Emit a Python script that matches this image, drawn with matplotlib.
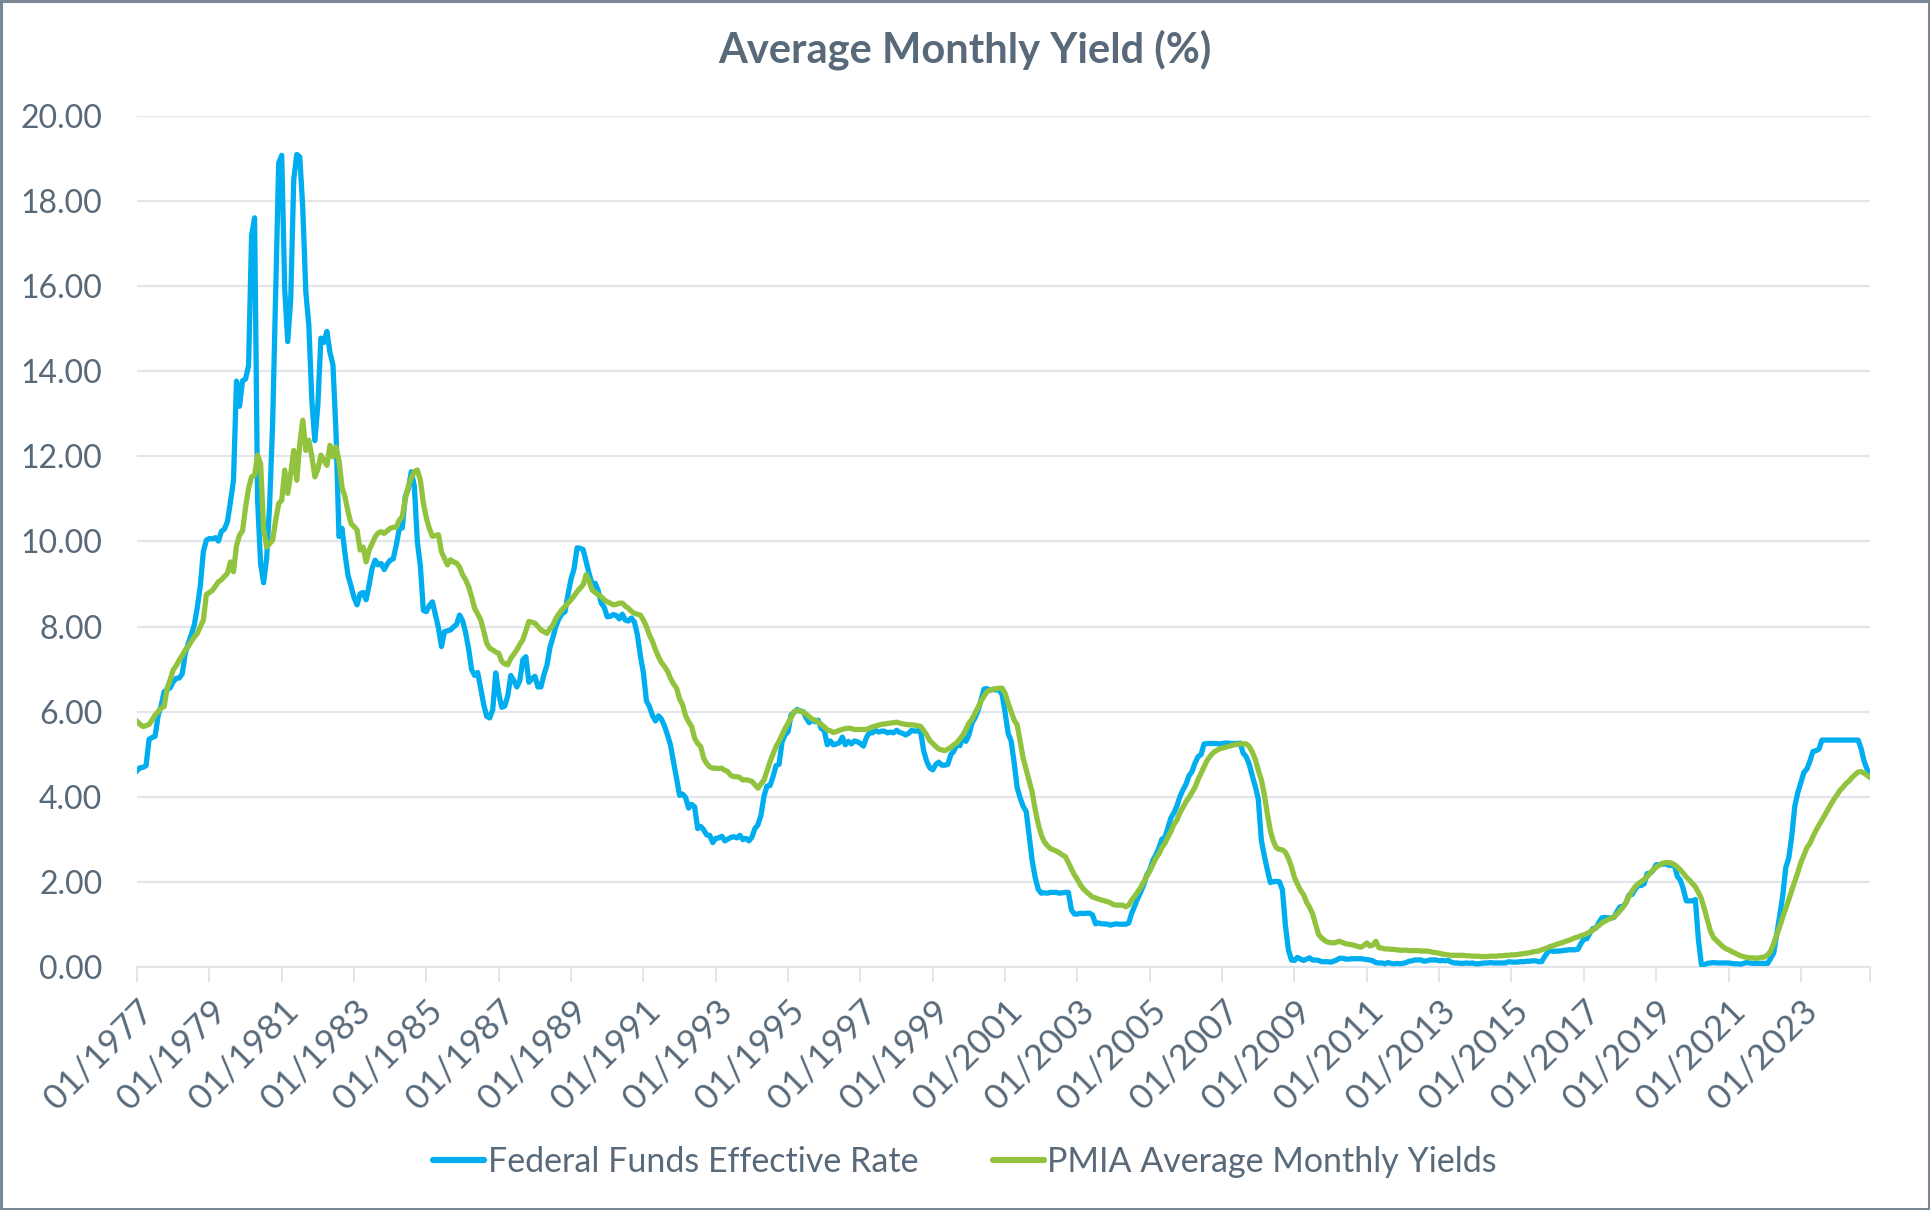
"""Average monthly yield: Fed Funds effective rate vs PMIA average monthly yields, 1977-2024."""

import numpy as np
import pandas as pd
import matplotlib
matplotlib.use("Agg")
import matplotlib.pyplot as plt
from matplotlib.patches import Rectangle

plt.rcParams["font.family"] = ["Lato", "DejaVu Sans"]

TEXT = "#586979"
GRID = "#E2E5E9"
BLUE = "#00AEEF"
GREEN = "#92C33E"

months = pd.date_range("1977-01-01", "2024-12-01", freq="MS")

# Federal Funds effective rate, monthly, one row per year
fed_funds = [
    4.61, 4.68, 4.69, 4.73, 5.35, 5.39, 5.42, 5.90, 6.14, 6.47, 6.51, 6.56,
    6.70, 6.78, 6.79, 6.89, 7.36, 7.60, 7.81, 8.04, 8.45, 8.96, 9.76, 10.03,
    10.07, 10.06, 10.09, 10.01, 10.24, 10.29, 10.47, 10.94, 11.43, 13.77, 13.18, 13.78,
    13.82, 14.13, 17.19, 17.61, 10.98, 9.47, 9.03, 9.61, 10.87, 12.81, 15.85, 18.90,
    19.08, 15.93, 14.70, 15.72, 18.52, 19.10, 19.04, 17.82, 15.87, 15.08, 13.31, 12.37,
    13.22, 14.78, 14.68, 14.94, 14.45, 14.15, 12.59, 10.12, 10.31, 9.71, 9.20, 8.95,
    8.68, 8.51, 8.77, 8.80, 8.63, 8.98, 9.37, 9.56, 9.45, 9.48, 9.34, 9.47,
    9.56, 9.59, 9.91, 10.29, 10.32, 11.06, 11.23, 11.64, 11.30, 9.99, 9.43, 8.38,
    8.35, 8.50, 8.58, 8.27, 7.97, 7.53, 7.88, 7.90, 7.92, 7.99, 8.05, 8.27,
    8.14, 7.86, 7.48, 6.99, 6.85, 6.92, 6.56, 6.17, 5.89, 5.85, 6.04, 6.91,
    6.43, 6.10, 6.13, 6.37, 6.85, 6.73, 6.58, 6.73, 7.22, 7.29, 6.69, 6.77,
    6.83, 6.58, 6.58, 6.87, 7.09, 7.51, 7.75, 8.01, 8.19, 8.30, 8.35, 8.76,
    9.12, 9.36, 9.85, 9.84, 9.81, 9.53, 9.24, 8.99, 9.02, 8.84, 8.55, 8.45,
    8.23, 8.24, 8.28, 8.26, 8.18, 8.29, 8.15, 8.13, 8.20, 8.11, 7.81, 7.31,
    6.91, 6.25, 6.12, 5.91, 5.78, 5.90, 5.82, 5.66, 5.45, 5.21, 4.81, 4.43,
    4.03, 4.06, 3.98, 3.73, 3.82, 3.76, 3.25, 3.30, 3.22, 3.10, 3.09, 2.92,
    3.02, 3.03, 3.07, 2.96, 3.00, 3.04, 3.06, 3.03, 3.09, 2.99, 3.02, 2.96,
    3.05, 3.25, 3.34, 3.56, 4.01, 4.25, 4.26, 4.47, 4.73, 4.76, 5.29, 5.45,
    5.53, 5.92, 5.98, 6.05, 6.01, 6.00, 5.85, 5.74, 5.80, 5.76, 5.80, 5.60,
    5.56, 5.22, 5.31, 5.22, 5.24, 5.27, 5.40, 5.22, 5.30, 5.24, 5.31, 5.29,
    5.25, 5.19, 5.39, 5.51, 5.50, 5.56, 5.52, 5.54, 5.54, 5.50, 5.52, 5.50,
    5.56, 5.51, 5.49, 5.45, 5.49, 5.56, 5.54, 5.55, 5.51, 5.07, 4.83, 4.68,
    4.63, 4.76, 4.81, 4.74, 4.74, 4.76, 4.99, 5.07, 5.22, 5.20, 5.42, 5.30,
    5.45, 5.73, 5.85, 6.02, 6.27, 6.53, 6.54, 6.50, 6.52, 6.51, 6.51, 6.40,
    5.98, 5.49, 5.31, 4.80, 4.21, 3.97, 3.77, 3.65, 3.07, 2.49, 2.09, 1.82,
    1.73, 1.74, 1.73, 1.75, 1.75, 1.75, 1.73, 1.74, 1.75, 1.75, 1.34, 1.24,
    1.24, 1.26, 1.25, 1.26, 1.26, 1.22, 1.01, 1.03, 1.01, 1.01, 1.00, 0.98,
    1.00, 1.01, 1.00, 1.00, 1.00, 1.03, 1.26, 1.43, 1.61, 1.76, 1.93, 2.16,
    2.28, 2.50, 2.63, 2.79, 3.00, 3.04, 3.26, 3.50, 3.62, 3.78, 4.00, 4.16,
    4.29, 4.49, 4.59, 4.79, 4.94, 4.99, 5.24, 5.25, 5.25, 5.25, 5.25, 5.24,
    5.25, 5.26, 5.26, 5.25, 5.25, 5.25, 5.26, 5.02, 4.94, 4.76, 4.49, 4.24,
    3.94, 2.98, 2.61, 2.28, 1.98, 2.00, 2.01, 2.00, 1.81, 0.97, 0.39, 0.16,
    0.15, 0.22, 0.18, 0.15, 0.18, 0.21, 0.16, 0.16, 0.15, 0.12, 0.12, 0.12,
    0.11, 0.13, 0.16, 0.20, 0.20, 0.18, 0.18, 0.19, 0.19, 0.19, 0.19, 0.18,
    0.17, 0.16, 0.14, 0.10, 0.09, 0.09, 0.07, 0.10, 0.08, 0.07, 0.08, 0.07,
    0.08, 0.10, 0.13, 0.14, 0.16, 0.16, 0.16, 0.13, 0.14, 0.16, 0.16, 0.16,
    0.14, 0.15, 0.14, 0.15, 0.11, 0.09, 0.09, 0.08, 0.08, 0.09, 0.08, 0.09,
    0.07, 0.07, 0.08, 0.09, 0.09, 0.10, 0.09, 0.09, 0.09, 0.09, 0.09, 0.12,
    0.11, 0.11, 0.11, 0.12, 0.12, 0.13, 0.13, 0.14, 0.14, 0.12, 0.12, 0.24,
    0.34, 0.38, 0.36, 0.37, 0.37, 0.38, 0.39, 0.40, 0.40, 0.40, 0.41, 0.54,
    0.65, 0.66, 0.79, 0.90, 0.91, 1.04, 1.15, 1.16, 1.15, 1.15, 1.16, 1.30,
    1.41, 1.42, 1.51, 1.69, 1.70, 1.82, 1.91, 1.91, 1.95, 2.19, 2.20, 2.27,
    2.40, 2.40, 2.41, 2.42, 2.39, 2.38, 2.40, 2.13, 2.04, 1.83, 1.55, 1.55,
    1.55, 1.58, 0.65, 0.05, 0.05, 0.08, 0.09, 0.10, 0.09, 0.09, 0.09, 0.09,
    0.09, 0.08, 0.07, 0.07, 0.06, 0.08, 0.10, 0.09, 0.08, 0.08, 0.08, 0.08,
    0.08, 0.08, 0.20, 0.33, 0.77, 1.21, 1.68, 2.33, 2.56, 3.08, 3.78, 4.10,
    4.33, 4.57, 4.65, 4.83, 5.06, 5.08, 5.12, 5.33, 5.33, 5.33, 5.33, 5.33,
    5.33, 5.33, 5.33, 5.33, 5.33, 5.33, 5.33, 5.33, 5.13, 4.83, 4.64, 4.48,
]

# PMIA average monthly yields
pmia = [
    5.77, 5.70, 5.65, 5.67, 5.70, 5.80, 5.92, 6.00, 6.08, 6.12, 6.55, 6.75,
    6.98, 7.08, 7.21, 7.32, 7.45, 7.53, 7.65, 7.75, 7.84, 8.00, 8.15, 8.75,
    8.80, 8.85, 8.95, 9.05, 9.10, 9.18, 9.25, 9.52, 9.29, 9.90, 10.15, 10.25,
    10.80, 11.25, 11.52, 11.56, 12.03, 11.83, 10.30, 9.87, 9.95, 10.03, 10.50, 10.89,
    10.97, 11.68, 11.13, 11.60, 12.14, 11.44, 12.30, 12.85, 12.14, 12.38, 12.00, 11.52,
    11.70, 12.03, 11.90, 11.79, 12.26, 11.99, 12.22, 11.90, 11.28, 11.05, 10.70, 10.42,
    10.35, 10.27, 9.80, 9.87, 9.52, 9.80, 9.95, 10.11, 10.20, 10.23, 10.19, 10.25,
    10.31, 10.33, 10.34, 10.50, 10.58, 11.00, 11.30, 11.50, 11.64, 11.68, 11.44, 10.90,
    10.55, 10.30, 10.12, 10.14, 10.16, 9.76, 9.60, 9.45, 9.57, 9.52, 9.49, 9.40,
    9.22, 9.10, 8.94, 8.70, 8.43, 8.30, 8.16, 7.90, 7.61, 7.49, 7.45, 7.40,
    7.37, 7.18, 7.12, 7.10, 7.25, 7.35, 7.45, 7.58, 7.69, 7.90, 8.12, 8.10,
    8.08, 8.00, 7.92, 7.88, 7.84, 7.95, 8.04, 8.20, 8.30, 8.40, 8.47, 8.55,
    8.63, 8.72, 8.82, 8.90, 8.98, 9.22, 9.06, 8.86, 8.80, 8.75, 8.70, 8.63,
    8.58, 8.55, 8.51, 8.52, 8.55, 8.55, 8.48, 8.43, 8.36, 8.31, 8.29, 8.27,
    8.15, 8.00, 7.80, 7.65, 7.45, 7.29, 7.15, 7.06, 6.95, 6.78, 6.65, 6.55,
    6.30, 6.16, 5.90, 5.76, 5.65, 5.37, 5.25, 5.18, 4.90, 4.78, 4.70, 4.67,
    4.67, 4.66, 4.67, 4.62, 4.59, 4.50, 4.47, 4.47, 4.45, 4.39, 4.40, 4.38,
    4.36, 4.28, 4.20, 4.30, 4.39, 4.60, 4.82, 5.00, 5.18, 5.30, 5.45, 5.60,
    5.73, 5.86, 6.00, 6.02, 6.02, 5.98, 5.94, 5.88, 5.82, 5.80, 5.75, 5.70,
    5.64, 5.57, 5.55, 5.51, 5.53, 5.56, 5.58, 5.60, 5.61, 5.60, 5.58, 5.58,
    5.58, 5.58, 5.58, 5.61, 5.64, 5.66, 5.68, 5.70, 5.71, 5.72, 5.73, 5.74,
    5.75, 5.73, 5.71, 5.70, 5.69, 5.69, 5.68, 5.67, 5.65, 5.55, 5.45, 5.32,
    5.25, 5.18, 5.12, 5.10, 5.08, 5.12, 5.16, 5.22, 5.27, 5.36, 5.45, 5.58,
    5.73, 5.82, 5.96, 6.10, 6.24, 6.36, 6.47, 6.50, 6.53, 6.54, 6.55, 6.55,
    6.43, 6.20, 6.00, 5.80, 5.69, 5.30, 4.90, 4.63, 4.35, 4.10, 3.69, 3.35,
    3.10, 2.94, 2.85, 2.78, 2.75, 2.72, 2.68, 2.63, 2.59, 2.45, 2.30, 2.16,
    2.05, 1.92, 1.83, 1.76, 1.70, 1.64, 1.62, 1.59, 1.57, 1.55, 1.53, 1.50,
    1.46, 1.45, 1.45, 1.45, 1.41, 1.45, 1.57, 1.66, 1.76, 1.87, 2.00, 2.13,
    2.25, 2.40, 2.55, 2.65, 2.80, 2.90, 3.05, 3.18, 3.35, 3.45, 3.62, 3.75,
    3.88, 3.98, 4.10, 4.22, 4.40, 4.55, 4.70, 4.85, 4.95, 5.03, 5.08, 5.12,
    5.14, 5.16, 5.18, 5.20, 5.22, 5.23, 5.24, 5.24, 5.24, 5.18, 5.05, 4.88,
    4.62, 4.40, 4.05, 3.60, 3.20, 2.95, 2.80, 2.76, 2.75, 2.69, 2.55, 2.35,
    2.10, 1.94, 1.80, 1.70, 1.52, 1.40, 1.25, 1.00, 0.76, 0.68, 0.62, 0.58,
    0.57, 0.56, 0.58, 0.60, 0.57, 0.54, 0.53, 0.52, 0.50, 0.48, 0.46, 0.50,
    0.56, 0.49, 0.51, 0.60, 0.45, 0.44, 0.42, 0.42, 0.41, 0.41, 0.40, 0.39,
    0.39, 0.39, 0.38, 0.38, 0.38, 0.38, 0.37, 0.37, 0.37, 0.36, 0.34, 0.33,
    0.32, 0.30, 0.29, 0.28, 0.27, 0.27, 0.27, 0.27, 0.27, 0.26, 0.26, 0.25,
    0.25, 0.25, 0.24, 0.24, 0.24, 0.25, 0.25, 0.25, 0.26, 0.26, 0.27, 0.27,
    0.28, 0.28, 0.29, 0.30, 0.31, 0.32, 0.33, 0.35, 0.36, 0.37, 0.40, 0.42,
    0.45, 0.48, 0.50, 0.53, 0.55, 0.57, 0.60, 0.62, 0.65, 0.68, 0.70, 0.73,
    0.75, 0.78, 0.82, 0.86, 0.92, 0.97, 1.03, 1.07, 1.11, 1.14, 1.17, 1.24,
    1.32, 1.40, 1.51, 1.66, 1.78, 1.88, 1.95, 2.00, 2.05, 2.12, 2.20, 2.28,
    2.34, 2.39, 2.43, 2.45, 2.45, 2.44, 2.40, 2.35, 2.28, 2.20, 2.11, 2.04,
    1.96, 1.88, 1.75, 1.60, 1.36, 1.10, 0.84, 0.69, 0.62, 0.55, 0.48, 0.43,
    0.40, 0.36, 0.33, 0.29, 0.26, 0.24, 0.22, 0.21, 0.21, 0.20, 0.21, 0.22,
    0.23, 0.28, 0.37, 0.55, 0.75, 0.95, 1.17, 1.37, 1.58, 1.80, 2.01, 2.22,
    2.45, 2.62, 2.80, 2.90, 3.06, 3.20, 3.33, 3.45, 3.57, 3.70, 3.82, 3.94,
    4.04, 4.15, 4.22, 4.31, 4.37, 4.45, 4.52, 4.58, 4.59, 4.55, 4.50, 4.45,
]

y_ticks = [0, 2, 4, 6, 8, 10, 12, 14, 16, 18, 20]


def main():
    fig = plt.figure(figsize=(19.3, 12.1), dpi=100)
    ax = fig.add_axes([0.071, 0.201, 0.898, 0.703])

    # Excel-style category axis: one slot per month
    x = np.arange(len(months))
    ax.plot(x, fed_funds, color=BLUE, lw=3.8, solid_joinstyle="round",
            label="Federal Funds Effective Rate", zorder=3)
    ax.plot(x, pmia, color=GREEN, lw=3.8, solid_joinstyle="round",
            label="PMIA Average Monthly Yields", zorder=4)

    ax.set_xlim(0, len(months) - 1)
    ax.set_ylim(0, 20)

    ax.set_yticks(y_ticks)
    ax.set_yticklabels([f"{v:.2f}" for v in y_ticks])
    ax.yaxis.grid(True, color=GRID, lw=1.6)
    ax.set_axisbelow(True)
    ax.tick_params(axis="y", length=0, pad=25, labelsize=23, labelcolor=TEXT)

    # ticks every two years, labels only on January positions
    major = list(range(0, len(months), 24))
    ax.set_xticks(major + [len(months) - 1])
    ax.set_xticklabels([months[i].strftime("%m/%Y") for i in major] + [""],
                       rotation=45, ha="right", rotation_mode="anchor")
    ax.tick_params(axis="x", length=11, width=1.4, color=GRID, pad=9,
                   labelsize=25.5, labelcolor=TEXT)

    for side in ("top", "right", "left"):
        ax.spines[side].set_visible(False)
    ax.spines["bottom"].set_color(GRID)
    ax.spines["bottom"].set_linewidth(1.6)

    fig.text(0.5, 0.959, "Average Monthly Yield (%)", ha="center", va="center",
             fontsize=30, fontweight="bold", color=TEXT)

    leg = fig.legend(loc="center", bbox_to_anchor=(0.5, 0.04), ncol=2,
                     frameon=False, fontsize=24.5, handlelength=1.5,
                     handletextpad=0.1, columnspacing=2.2)
    for text in leg.get_texts():
        text.set_color(TEXT)
    for line in leg.get_lines():
        line.set_linewidth(4.5)
        line.set_solid_capstyle("round")

    # thin frame around the whole picture
    fig.patches.append(Rectangle((0.0005, 0.001), 0.999, 0.998, transform=fig.transFigure,
                                 fill=False, edgecolor="#7A8896", lw=2.2))

    fig.savefig("out.png", dpi=100, facecolor="white")
    plt.close(fig)


if __name__ == "__main__":
    main()
